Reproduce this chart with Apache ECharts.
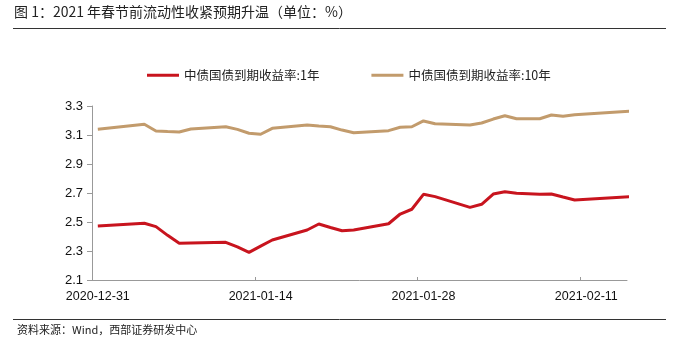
<!DOCTYPE html>
<html>
<head>
<meta charset="utf-8">
<script src="https://cdn.jsdelivr.net/npm/echarts@6/dist/echarts.min.js"></script>
<style>
  html, body { margin: 0; padding: 0; background: #fff; }
  #main { width: 678px; height: 351px; }
</style>
</head>
<body>
<div id="main"></div>
<script>
// 交易日（银行间）
var dates = ['2020-12-31', '2021-01-04', '2021-01-05', '2021-01-06', '2021-01-07', '2021-01-08',
  '2021-01-11', '2021-01-12', '2021-01-13', '2021-01-14', '2021-01-15',
  '2021-01-18', '2021-01-19', '2021-01-20', '2021-01-21', '2021-01-22',
  '2021-01-25', '2021-01-26', '2021-01-27', '2021-01-28', '2021-01-29',
  '2021-02-01', '2021-02-02', '2021-02-03', '2021-02-04', '2021-02-05',
  '2021-02-07', '2021-02-08', '2021-02-09', '2021-02-10', '2021-02-18'];
var y1 = [2.472, 2.491, 2.468, 2.408, 2.353, 2.355,
  2.360, 2.328, 2.291, 2.334, 2.376,
  2.445, 2.486, 2.462, 2.440, 2.445,
  2.488, 2.555, 2.588, 2.691, 2.675,
  2.601, 2.622, 2.693, 2.709, 2.698,
  2.691, 2.693, 2.672, 2.652, 2.690];
var y10 = [3.139, 3.174, 3.128, 3.124, 3.121, 3.141,
  3.157, 3.139, 3.112, 3.105, 3.146,
  3.169, 3.162, 3.157, 3.134, 3.116,
  3.130, 3.153, 3.157, 3.197, 3.178,
  3.169, 3.183, 3.210, 3.233, 3.212,
  3.212, 3.238, 3.229, 3.240, 3.281];
var tickDates = ['2020-12-31', '2021-01-14', '2021-01-28', '2021-02-11'];
var seriesNames = ['中债国债到期收益率:1年', '中债国债到期收益率:10年'];

var DAY = 86400000;
var t0 = Date.parse('2020-12-31T00:00:00Z');
function dayOf(s) { return (Date.parse(s + 'T00:00:00Z') - t0) / DAY; }
function dateOf(d) { return new Date(t0 + Math.floor(d) * DAY).toISOString().slice(0, 10); }

// 日期轴：每个点放在当天格子中间
var pts1 = dates.map(function (d, i) { return [dayOf(d) + 0.5, y1[i]]; });
var pts10 = dates.map(function (d, i) { return [dayOf(d) + 0.5, y10[i]]; });
var tickVals = tickDates.map(dayOf);
var labelVals = tickVals.map(function (v) { return v + 0.5; });

var chart = echarts.init(document.getElementById('main'));
var option = {
  animation: false,
  backgroundColor: '#fff',
  color: ['#C8141E', '#C29B6C'],
  grid: { left: 92, right: 51, top: 106, bottom: 71 },
  legend: {
    top: 64,
    left: 142,
    icon: 'rect',
    itemWidth: 32,
    itemHeight: 3,
    itemGap: 52,
    textStyle: { fontFamily: 'Noto Sans CJK SC', fontSize: 12.5, color: '#222' },
    data: seriesNames
  },
  xAxis: {
    type: 'value',
    min: 0,
    max: 46,
    splitLine: { show: false },
    axisLine: { lineStyle: { color: '#999' } },
    axisTick: { inside: true, length: 3, customValues: tickVals, lineStyle: { color: '#999' } },
    axisLabel: {
      customValues: labelVals,
      margin: 10,
      fontFamily: 'Liberation Sans',
      fontSize: 12.5,
      color: '#111',
      formatter: function (v) { return dateOf(v); }
    }
  },
  yAxis: {
    type: 'value',
    min: 2.1,
    max: 3.3,
    interval: 0.2,
    splitLine: { show: false },
    axisLine: { show: true, lineStyle: { color: '#999' } },
    axisTick: { show: true, length: 5, lineStyle: { color: '#999' } },
    axisLabel: {
      margin: 9,
      fontFamily: 'Liberation Sans',
      fontSize: 13,
      color: '#111',
      formatter: function (v) { return v.toFixed(1); }
    }
  },
  series: [
    { name: seriesNames[0], type: 'line', data: pts1, showSymbol: false, clip: true, lineStyle: { width: 3 } },
    { name: seriesNames[1], type: 'line', data: pts10, showSymbol: false, clip: true, lineStyle: { width: 3 } }
  ],
  graphic: [
    { type: 'text', left: 14, top: 5, style: { text: '图 1：2021 年春节前流动性收紧预期升温（单位：%）', fontFamily: 'Noto Sans CJK SC', fontSize: 14, fill: '#222' } },
    { type: 'line', shape: { x1: 13, y1: 28.5, x2: 666, y2: 28.5 }, style: { stroke: '#333', lineWidth: 1 } },
    { type: 'line', shape: { x1: 13, y1: 319.5, x2: 666, y2: 319.5 }, style: { stroke: '#333', lineWidth: 1 } },
    { type: 'text', left: 17, top: 324, style: { text: '资料来源：Wind，西部证券研发中心', fontFamily: 'Noto Sans CJK SC', fontSize: 11, fill: '#222' } }
  ]
};
chart.setOption(option);
</script>
</body>
</html>
